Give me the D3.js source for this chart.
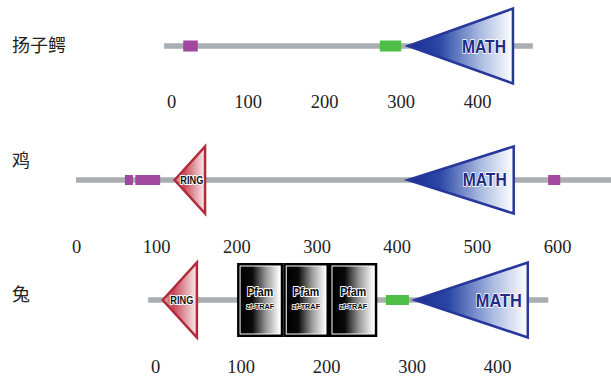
<!DOCTYPE html>
<html>
<head>
<meta charset="utf-8">
<script src="https://cdn.jsdelivr.net/npm/d3@7"></script>
<style>
  html, body { margin: 0; padding: 0; background: #fff; }
  svg { display: block; }
</style>
</head>
<body>
<svg id="chart" width="611" height="378"></svg>
<script>
// ---------- data (protein residue positions) ----------
const species = ["扬子鳄", "鸡", "兔"];
const ticks1 = [0, 100, 200, 300, 400];
const ticks2 = [0, 100, 200, 300, 400, 500, 600];
const ticks3 = [0, 100, 200, 300, 400];

// panel 1: 扬子鳄
const line1 = [-9, 473];
const boxes1 = [{type: "purple", start: 16, end: 35}, {type: "green", start: 273, end: 301}];
const tri1 = [{type: "MATH", start: 310, end: 447}];

// panel 2: 鸡
const line2 = [0, 680];
const boxes2 = [{type: "purple", start: 61, end: 71}, {type: "purple", start: 74, end: 105}, {type: "purple", start: 589, end: 604}];
const tri2 = [{type: "RING", start: 123, end: 161}, {type: "MATH", start: 414, end: 546}];

// panel 3: 兔
const line3 = [-8, 460];
const boxes3 = [{type: "green", start: 270, end: 297}];
const tri3 = [{type: "RING", start: 9, end: 49}, {type: "MATH", start: 304, end: 436}];
const pfam3 = [{start: 96, end: 150}, {start: 150, end: 203.5}, {start: 203.5, end: 260}];

// ---------- drawing ----------
const svg = d3.select("#chart");
const defs = svg.append("defs");

function grad(id, stops) {
  const g = defs.append("linearGradient").attr("id", id)
    .attr("x1", 0).attr("y1", 0).attr("x2", 1).attr("y2", 0);
  stops.forEach(s => g.append("stop").attr("offset", s[0]).attr("stop-color", s[1]));
}
grad("mathGrad", [[0, "#1a2c8e"], [0.3, "#2a48a6"], [0.7, "#aebde2"], [1, "#ffffff"]]);
grad("ringGrad", [[0, "#eeb6bc"], [0.3, "#c84454"], [0.65, "#e09aa2"], [1, "#fcecee"]]);
grad("pfamGrad", [[0, "#000000"], [0.3, "#0a0a0a"], [0.65, "#9a9a9a"], [1, "#ffffff"]]);

const colors = {purple: "#a2479f", green: "#4fbf48", line: "#a9aeb2",
  mathStroke: "#27379a", ringStroke: "#b02a3c", mathText: "#1f2c86"};

const panels = [
  {label: species[0], labelY: 46, cy: 46, tickY: 108, scale: d3.scaleLinear([0, 400], [171, 477]),
   ticks: ticks1, line: line1, boxes: boxes1, tris: tri1, triH: 75, boxH: 11, pfam: []},
  {label: species[1], labelY: 161, cy: 180, tickY: 253, scale: d3.scaleLinear([0, 600], [76, 557]),
   ticks: ticks2, line: line2, boxes: boxes2, tris: tri2, triH: 67, boxH: 10, pfam: []},
  {label: species[2], labelY: 295, cy: 300, tickY: 373, scale: d3.scaleLinear([0, 400], [155, 497]),
   ticks: ticks3, line: line3, boxes: boxes3, tris: tri3, triH: 75, boxH: 10, pfam: pfam3}
];

panels.forEach(p => {
  const x = p.scale;
  const g = svg.append("g");

  // species label
  g.append("text").attr("x", 12).attr("y", p.labelY).attr("dy", "0.36em")
    .attr("font-family", "'Noto Sans CJK SC', sans-serif").attr("font-size", 18)
    .attr("fill", "#222").text(p.label);

  // backbone
  g.append("line").attr("x1", x(p.line[0])).attr("x2", x(p.line[1]))
    .attr("y1", p.cy).attr("y2", p.cy).attr("stroke", colors.line).attr("stroke-width", 5.5);

  // small boxes
  g.selectAll("rect.box").data(p.boxes).join("rect").attr("class", "box")
    .attr("x", d => x(d.start)).attr("width", d => x(d.end) - x(d.start))
    .attr("y", p.cy - p.boxH / 2).attr("height", p.boxH)
    .attr("fill", d => colors[d.type]);

  // Pfam boxes
  const pg = g.selectAll("g.pfam").data(p.pfam).join("g").attr("class", "pfam");
  const top = p.cy - 37, h = 74;
  pg.append("rect").attr("x", d => x(d.start)).attr("width", d => x(d.end) - x(d.start))
    .attr("y", top).attr("height", h).attr("fill", "#000");
  pg.append("rect").attr("x", d => x(d.start) + 2.5).attr("width", d => x(d.end) - x(d.start) - 5)
    .attr("y", top + 2.5).attr("height", h - 5).attr("fill", "#fff");
  pg.append("rect").attr("x", d => x(d.start) + 3.5).attr("width", d => x(d.end) - x(d.start) - 7)
    .attr("y", top + 3.5).attr("height", h - 7).attr("fill", "url(#pfamGrad)");
  pg.append("text").attr("x", d => (x(d.start) + x(d.end)) / 2).attr("y", p.cy - 4)
    .attr("text-anchor", "middle").attr("font-family", "'Liberation Sans', Arial, sans-serif")
    .attr("font-weight", "bold").attr("font-size", 13).attr("fill", "#0a0a0a")
    .attr("stroke", "#ffffff").attr("stroke-width", 2.2).attr("stroke-linejoin", "round")
    .attr("paint-order", "stroke")
    .attr("textLength", 26).attr("lengthAdjust", "spacingAndGlyphs").text("Pfam");
  pg.append("text").attr("x", d => (x(d.start) + x(d.end)) / 2).attr("y", p.cy + 9)
    .attr("text-anchor", "middle").attr("font-family", "'Liberation Sans', Arial, sans-serif")
    .attr("font-weight", "bold").attr("font-size", 8).attr("fill", "#0a0a0a")
    .attr("stroke", "#ffffff").attr("stroke-width", 1.6).attr("stroke-linejoin", "round")
    .attr("paint-order", "stroke")
    .attr("textLength", 28).attr("lengthAdjust", "spacingAndGlyphs").text("zf-TRAF");

  // triangles (tip on the left, flat side on the right)
  const tg = g.selectAll("g.tri").data(p.tris).join("g").attr("class", "tri");
  tg.append("path")
    .attr("d", d => {
      const x0 = x(d.start), x1 = x(d.end), hh = p.triH / 2;
      return `M${x0},${p.cy} L${x1},${p.cy - hh} L${x1},${p.cy + hh} Z`;
    })
    .attr("fill", d => d.type === "MATH" ? "url(#mathGrad)" : "url(#ringGrad)")
    .attr("stroke", d => d.type === "MATH" ? colors.mathStroke : colors.ringStroke)
    .attr("stroke-width", 2.5).attr("stroke-linejoin", "miter");
  tg.append("text")
    .attr("x", d => d.type === "MATH" ? x(d.end) - 29 : (x(d.start) + x(d.end)) / 2 + 2)
    .attr("y", p.cy).attr("dy", "0.36em").attr("text-anchor", "middle")
    .attr("font-family", "'Liberation Sans', Arial, sans-serif").attr("font-weight", "bold")
    .attr("font-size", d => d.type === "MATH" ? (p.triH > 70 ? 19 : 18) : 10.5)
    .attr("fill", d => d.type === "MATH" ? colors.mathText : "#111")
    .attr("stroke", "#fff").attr("stroke-width", d => d.type === "MATH" ? 1.5 : 2)
    .attr("paint-order", "stroke")
    .attr("textLength", d => d.type === "MATH" ? (p.triH > 70 && p.pfam.length ? 46 : 44) : 23)
    .attr("lengthAdjust", "spacingAndGlyphs")
    .text(d => d.type);

  // axis labels
  const axis = d3.axisBottom(x).tickValues(p.ticks).tickSize(0).tickPadding(0).tickFormat(d3.format("d"));
  const ag = g.append("g").attr("transform", `translate(0,${p.tickY})`).call(axis);
  ag.select(".domain").remove();
  ag.selectAll("text").attr("y", 0).attr("dy", 0)
    .attr("font-family", "'Liberation Serif', 'Times New Roman', serif")
    .attr("font-size", 18.5).attr("fill", "#222");
});
</script>
</body>
</html>
